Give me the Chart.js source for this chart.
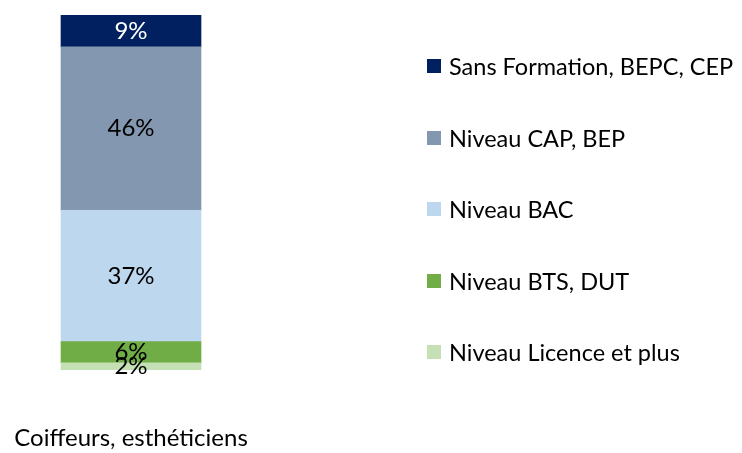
<!DOCTYPE html>
<html>
<head>
<meta charset="utf-8">
<script src="https://cdn.jsdelivr.net/npm/chart.js@4/dist/chart.umd.min.js"></script>
<style>
  html, body { margin: 0; padding: 0; background: #fff; }
  #wrap { position: relative; width: 742px; height: 453px; }
  #chart { position: absolute; left: 0; top: 0; }
  #legend { position: absolute; left: 427px; top: 0; margin: 0; padding: 0; list-style: none;
            font-family: Lato, "Liberation Sans", sans-serif; font-size: 23.5px; color: #000; }
  #legend li { position: absolute; left: 0; white-space: nowrap; display: flex; align-items: center; height: 24px; }
  #legend span.box { display: inline-block; width: 14px; height: 14px; margin-right: 8px; }
</style>
</head>
<body>
<div id="wrap">
  <canvas id="chart" width="742" height="453"></canvas>
  <ul id="legend"></ul>
</div>
<script>
// Répartition par niveau de diplôme
const categories = ['Coiffeurs, esthéticiens'];
// top of the bar first (same order as the legend)
const seriesNames = ['Sans Formation, BEPC, CEP', 'Niveau CAP, BEP', 'Niveau BAC', 'Niveau BTS, DUT', 'Niveau Licence et plus'];
const seriesValues = [9, 46, 37, 6, 2];
const seriesColors = ['#002060', '#8497B0', '#BDD7EE', '#70AD47', '#C5E0B4'];
const labelColors = ['#ffffff', '#000000', '#000000', '#000000', '#000000'];

// Chart.js stacks from the first dataset upward, so build bottom -> top
const datasets = seriesNames.map((name, i) => ({
  label: name,
  data: [seriesValues[i]],
  backgroundColor: seriesColors[i],
  labelColor: labelColors[i],
  barThickness: 140,
  borderWidth: 0
})).reverse();

// percentage labels in the middle of each segment
const segmentLabels = {
  id: 'segmentLabels',
  afterDatasetsDraw(chart) {
    const ctx = chart.ctx;
    ctx.save();
    ctx.font = '24px Lato, "Liberation Sans", sans-serif';
    ctx.textAlign = 'center';
    ctx.textBaseline = 'middle';
    chart.data.datasets.forEach((ds, i) => {
      chart.getDatasetMeta(i).data.forEach((bar, j) => {
        ctx.fillStyle = ds.labelColor;
        ctx.fillText(ds.data[j] + '%', bar.x, (bar.y + bar.base) / 2);
      });
    });
    ctx.restore();
  }
};

// legend on the right, built from the datasets
const htmlLegend = {
  id: 'htmlLegend',
  afterUpdate(chart) {
    const ul = document.getElementById('legend');
    ul.innerHTML = '';
    const items = chart.data.datasets.slice().reverse();
    items.forEach((ds, i) => {
      const li = document.createElement('li');
      li.style.top = (54 + i * 71.5) + 'px';
      const box = document.createElement('span');
      box.className = 'box';
      box.style.background = ds.backgroundColor;
      li.appendChild(box);
      li.appendChild(document.createTextNode(ds.label));
      ul.appendChild(li);
    });
  }
};

new Chart(document.getElementById('chart'), {
  type: 'bar',
  data: { labels: categories, datasets: datasets },
  options: {
    responsive: false,
    animation: false,
    layout: { padding: { top: 15, right: 480, bottom: 0, left: 0 } },
    plugins: {
      legend: { display: false },
      tooltip: { enabled: false }
    },
    scales: {
      x: {
        stacked: true,
        grid: { display: false },
        border: { display: false },
        ticks: {
          color: '#000',
          padding: 46,
          maxRotation: 0,
          autoSkip: false,
          font: { family: 'Lato, "Liberation Sans", sans-serif', size: 24 }
        },
        afterFit(scale) {
          scale.height = 83;
          scale.paddingLeft = 0;
          scale.paddingRight = 0;
        }
      },
      y: {
        stacked: true,
        display: false,
        min: 0,
        max: 100
      }
    }
  },
  plugins: [segmentLabels, htmlLegend]
});
</script>
</body>
</html>
